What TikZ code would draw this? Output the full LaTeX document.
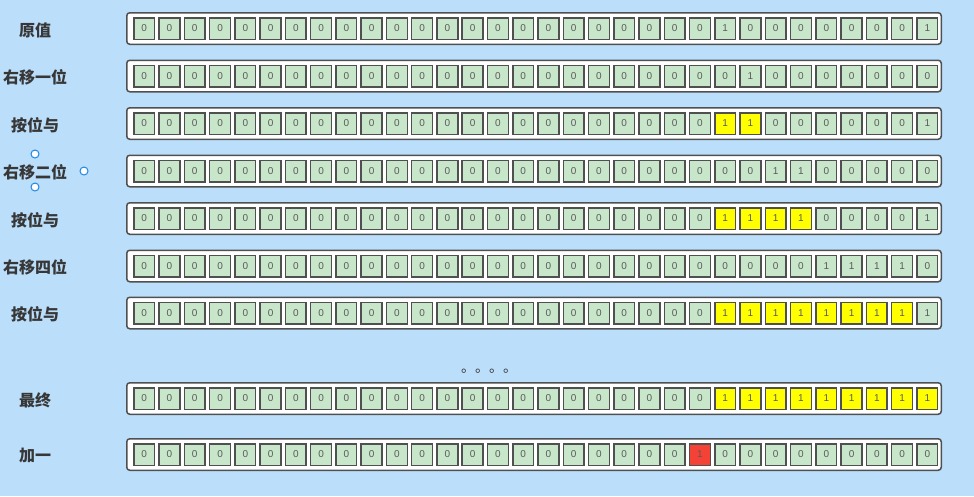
\documentclass[tikz,border=0pt]{standalone}
\usepackage{fontspec}
\setmainfont{Liberation Sans}
\newfontfamily\cjk{Noto Sans CJK SC}
\definecolor{bgblue}{RGB}{187,222,251}
\definecolor{cellgreen}{RGB}{200,230,201}
\definecolor{cellyellow}{RGB}{255,255,0}
\definecolor{cellred}{RGB}{244,67,54}
\definecolor{edgegray}{RGB}{80,80,80}
\definecolor{digitgray}{RGB}{90,90,90}
\definecolor{labelgray}{RGB}{55,55,55}
\definecolor{handleblue}{RGB}{30,136,229}
\newcommand\bitof[1]{\if#10 0\else 1\fi}
\tikzset{
  rowbox/.style={draw=edgegray, line width=1.5pt, fill=white, rounded corners=3pt,
    minimum width=814.5pt, minimum height=31.5pt, inner sep=0pt},
  cellbase/.style={draw=edgegray, line width=1.5pt, minimum width=20.8pt,
    minimum height=21.5pt, inner sep=0pt, font=\fontsize{10}{10}\selectfont, text=digitgray},
  c0/.style={cellbase, fill=cellgreen},
  c1/.style={cellbase, fill=cellgreen},
  cy/.style={cellbase, fill=cellyellow},
  cr/.style={cellbase, fill=cellred},
  rowlabel/.style={font=\cjk\bfseries\fontsize{16}{18}\selectfont, text=labelgray, inner sep=0pt},
  handle/.style={circle, draw=handleblue, fill=white, line width=1pt, minimum size=8pt, inner sep=0pt},
}
\begin{document}
\begin{tikzpicture}[x=1pt,y=-1pt]
\fill[bgblue] (0,0) rectangle (974,496);
\useasboundingbox (0,0) rectangle (974,496);
\foreach \r/\y/\lab/\tail in {
  1/28.5/原值/{0,1,0,0,0,0,0,0,0,1},
  2/76/右移一位/{0,0,1,0,0,0,0,0,0,0},
  3/123.5/按位与/{0,y,y,0,0,0,0,0,0,1},
  4/171/右移二位/{0,0,0,1,1,0,0,0,0,0},
  5/218.5/按位与/{0,y,y,y,y,0,0,0,0,1},
  6/266/右移四位/{0,0,0,0,0,1,1,1,1,0},
  7/313/按位与/{0,y,y,y,y,y,y,y,y,1},
  8/398.5/最终/{0,y,y,y,y,y,y,y,y,y},
  9/454.5/加一/{r,0,0,0,0,0,0,0,0,0}} {
  \node[rowlabel] (lab\r) at (35,\y+1.5) {\lab};
  \node[rowbox] (row\r) at (534,\y) {};
  \foreach \k in {0,...,21} {
    \node[c0] (cell\r-\k) at ({144.25+25.26*\k},\y) {0};
  }
  \foreach \t [count=\k from 22] in \tail {
    \node[c\t] (cell\r-\k) at ({144.25+25.26*\k},\y) {\bitof{\t}};
  }
}
\node[font=\cjk\fontsize{14}{14}\selectfont, text=labelgray, inner sep=0pt, anchor=base west] (dots) at (461,372) {。。。。};
\node[handle] (h1) at (35,154) {};
\node[handle] (h2) at (35,187) {};
\node[handle] (h3) at (84,171) {};
\end{tikzpicture}
\end{document}
